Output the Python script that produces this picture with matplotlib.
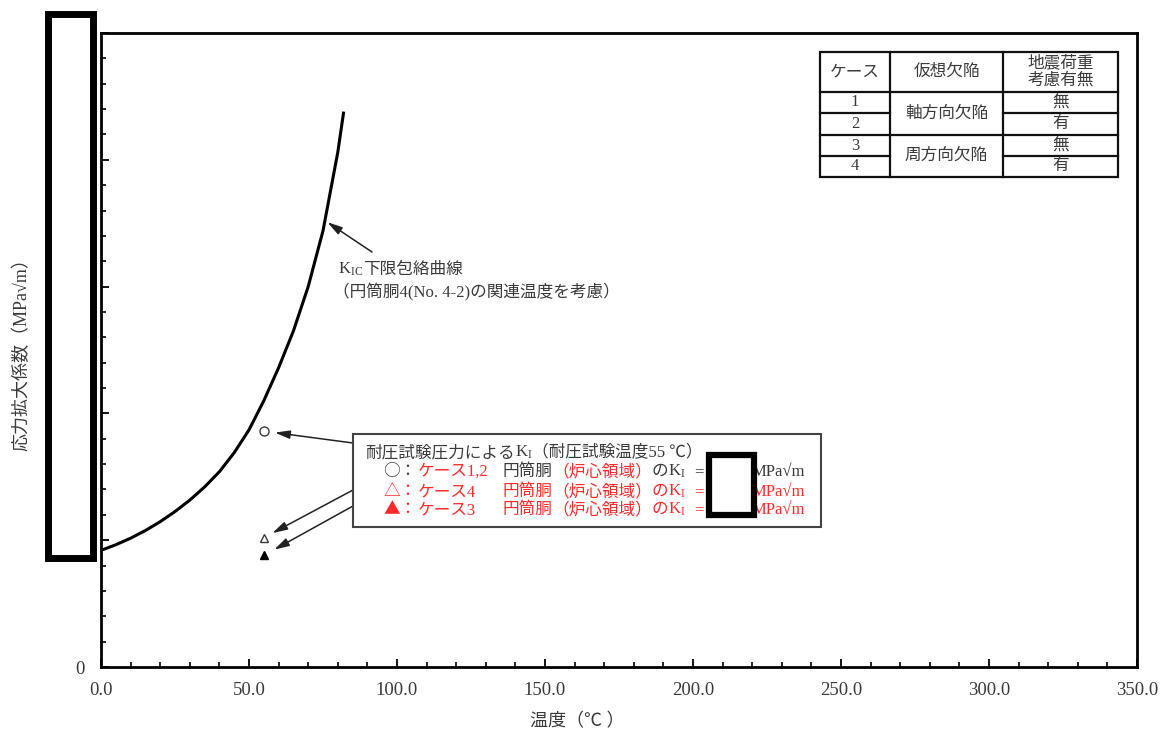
import matplotlib
matplotlib.use("Agg")
import matplotlib.pyplot as plt
from matplotlib.patches import Rectangle
from matplotlib.lines import Line2D
from matplotlib.ticker import MultipleLocator, FuncFormatter

plt.rcParams["font.family"] = ["Liberation Serif", "Noto Sans CJK JP", "DejaVu Sans"]
plt.rcParams["mathtext.fontset"] = "custom"
plt.rcParams["mathtext.rm"] = "Liberation Serif"
plt.rcParams["mathtext.it"] = "Liberation Serif:italic"
plt.rcParams["mathtext.bf"] = "Liberation Serif:bold"

W, H = 1168, 736
GRIS = "#3a3a3a"
ROUGE = "#ff2a2a"

# --- donnees ---
temp_courbe = [0, 5, 10, 15, 20, 25, 30, 35, 40, 45, 50, 55, 60, 65, 70, 75, 80, 82]
kic_courbe = [46, 48.2, 50.8, 53.8, 57.3, 61.3, 65.8, 71, 77, 84.5, 93.5, 105,
              118, 132.5, 150, 172, 203, 219]

temp_essai = 55
ki_cas12 = 93
ki_cas4 = 51
ki_cas3 = 44

x_ticks = [0, 50, 100, 150, 200, 250, 300, 350]

entete = ["ケース", "仮想欠陥", "地震荷重", "考慮有無"]
cas = ["1", "2", "3", "4"]
defauts = ["軸方向欠陥", "周方向欠陥"]
seisme = ["無", "有", "無", "有"]


def fx(px):
    return px / W


def fy(py):
    return 1 - py / H


fig = plt.figure(figsize=(W / 100, H / 100), dpi=100)
ax = fig.add_axes([fx(101), fy(667), (1137 - 101) / W, (667 - 33) / H])

# --- courbe et points ---
ax.plot(temp_courbe, kic_courbe, color="black", lw=2.2, solid_capstyle="butt")
ax.plot([temp_essai], [ki_cas12], "o", ms=6.5, mfc="white", mec=GRIS, mew=1.0)
ax.plot([temp_essai], [ki_cas4], "^", ms=6, mfc="white", mec=GRIS, mew=1.0)
ax.plot([temp_essai], [ki_cas3], "^", ms=6, mfc="black", mec="black", mew=1.0)

ax.set_xlim(0, 350)
ax.set_ylim(0, 250)
ax.set_xticks(x_ticks)
ax.xaxis.set_major_formatter(FuncFormatter(lambda v, p: f"{v:.1f}"))
ax.xaxis.set_minor_locator(MultipleLocator(10))
ax.yaxis.set_major_locator(MultipleLocator(50))
ax.yaxis.set_minor_locator(MultipleLocator(10))
ax.yaxis.set_major_formatter(FuncFormatter(lambda v, p: "0" if v == 0 else ""))
ax.tick_params(which="both", direction="in", top=False, right=False,
               labelcolor=GRIS, labelsize=13.5)
ax.tick_params(which="major", length=6, width=1.3)
ax.tick_params(which="minor", length=3.5, width=1.2)
ax.tick_params(axis="x", which="major", pad=11)
ax.tick_params(axis="y", which="major", pad=12)
for sp in ax.spines.values():
    sp.set_linewidth(2.0)

fig.text(fx(577), fy(722), "温度（℃ ）", ha="center", va="center",
         fontsize=13, color=GRIS)
fig.text(fx(22), fy(350), "応力拡大係数（MPa√m）", rotation=90, ha="center",
         va="center", fontsize=13, color=GRIS)

# --- fleches ---
fleche = dict(arrowstyle="-|>,head_length=0.9,head_width=0.25", color="#222",
              lw=1.1, shrinkA=0)
ax.annotate("", xy=(75.7, 176), xytext=(fx(372), fy(252)),
            textcoords="figure fraction", arrowprops=dict(fleche, shrinkB=2))
ax.annotate("", xy=(temp_essai, ki_cas12), xytext=(fx(353), fy(443)),
            textcoords="figure fraction", arrowprops=dict(fleche, shrinkB=8))
ax.annotate("", xy=(temp_essai, ki_cas4), xytext=(fx(353), fy(490)),
            textcoords="figure fraction", arrowprops=dict(fleche, shrinkB=7))
ax.annotate("", xy=(temp_essai, ki_cas3), xytext=(fx(353), fy(506)),
            textcoords="figure fraction", arrowprops=dict(fleche, shrinkB=8.5))

rend = fig.canvas.get_renderer()


def put(px, py, s, c, size=12, **kw):
    return fig.text(fx(px), fy(py), s, color=c, fontsize=size, va="baseline",
                    ha="left", zorder=4, **kw)


def chain(px, py, morceaux):
    # morceaux de texte poses l'un apres l'autre sur la meme ligne de base
    x = px
    for s, c in morceaux:
        t = put(x, py, s, c)
        x = t.get_window_extent(renderer=rend).x1
    return x


KI = r"K$_{\mathrm{I}}$"

# --- etiquette de la courbe ---
chain(338, 274, [(r"K$_{\mathrm{IC}}$", GRIS), ("下限包絡曲線", GRIS)])
put(333, 297, "（円筒胴4(No. 4-2)の関連温度を考慮）", GRIS)

# --- cadre de legende ---
fig.add_artist(Rectangle((fx(353), fy(527)), (821 - 353) / W, (527 - 434) / H,
                         transform=fig.transFigure, facecolor="white",
                         edgecolor="#444", lw=1.5, zorder=3))

sym = ["Noto Sans CJK JP"]

chain(365, 457, [("耐圧試験圧力による", GRIS), (KI, GRIS),
                 ("（耐圧試験温度55 ℃）", GRIS)])

lignes = [
    (476, "○：", GRIS, "ケース1,2", [GRIS, ROUGE, GRIS]),
    (496, "△：", ROUGE, "ケース4", [ROUGE, ROUGE, ROUGE]),
    (514, "▲：", ROUGE, "ケース3", [ROUGE, ROUGE, ROUGE]),
]
for yb, marque, c_marque, nom, cs in lignes:
    put(383, yb, marque, c_marque, family=sym)
    put(418, yb, nom, ROUGE)
    xe = chain(502, yb, [("円筒胴", cs[0]), ("（炉心領域）", cs[1]),
                         ("の", cs[2]), (KI, cs[2])])
    put(xe + 8, yb, "=", cs[2])
    put(752, yb, "MPa√m", cs[2])

# --- zones masquees ---
fig.add_artist(Rectangle((fx(47.5), fy(557.5)), 45 / W, 544 / H,
                         transform=fig.transFigure, facecolor="white",
                         edgecolor="black", lw=5, zorder=6))
fig.add_artist(Rectangle((fx(708.5), fy(515)), 45 / W, 60 / H,
                         transform=fig.transFigure, facecolor="white",
                         edgecolor="black", lw=4.5, zorder=6))


# --- tableau ---
def trait(x0, y0, x1, y1):
    fig.add_artist(Line2D([fx(x0), fx(x1)], [fy(y0), fy(y1)],
                          transform=fig.transFigure, color="#111", lw=1.6))


def cell(px, py, s):
    fig.text(fx(px), fy(py), s, ha="center", va="center", fontsize=12, color=GRIS)


tab_x = [820, 890, 1003, 1118]
tab_y = [51.7, 91.7, 113.3, 135, 156, 176.7]
fig.add_artist(Rectangle((fx(820), fy(176.7)), 298 / W, 125 / H,
                         transform=fig.transFigure, facecolor="white",
                         edgecolor="#111", lw=1.6))
for xv in tab_x[1:3]:
    trait(xv, tab_y[0], xv, tab_y[-1])
trait(820, tab_y[1], 1118, tab_y[1])
trait(820, tab_y[3], 1118, tab_y[3])
for yv in (tab_y[2], tab_y[4]):
    trait(820, yv, 890, yv)
    trait(1003, yv, 1118, yv)

cell(855, 72, entete[0])
cell(946.5, 72, entete[1])
cell(1060.5, 63, entete[2])
cell(1060.5, 81, entete[3])
for i in range(4):
    yc = (tab_y[i + 1] + tab_y[i + 2]) / 2
    cell(855, yc, cas[i])
    cell(1060.5, yc, seisme[i])
cell(946.5, (tab_y[1] + tab_y[3]) / 2, defauts[0])
cell(946.5, (tab_y[3] + tab_y[5]) / 2, defauts[1])

fig.savefig("out.png", dpi=100)
